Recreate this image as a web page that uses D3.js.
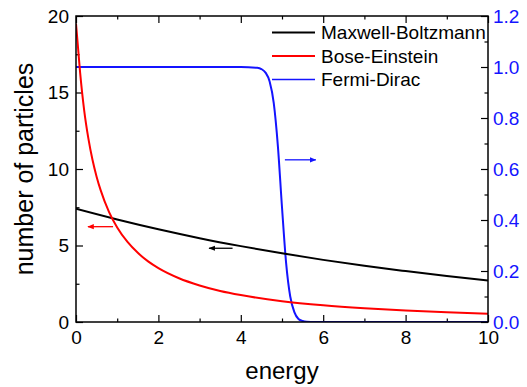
<!DOCTYPE html>
<html>
<head>
<meta charset="utf-8">
<script src="https://cdn.jsdelivr.net/npm/d3@7"></script>
<style>
  body { margin: 0; background: #fff; }
  text { font-family: "Liberation Sans", Arial, sans-serif; }
</style>
</head>
<body>
<div id="chart"></div>
<script>
// values
const mbEnergy = [0, 1, 2, 3, 4, 5, 6, 7, 8, 9, 10];
const mbCount  = [7.40, 6.70, 6.06, 5.48, 4.96, 4.49, 4.06, 3.67, 3.33, 3.01, 2.72];

const beEnergy = [0, 0.1, 0.2, 0.3, 0.4, 0.5, 0.6, 0.8, 1.0, 1.25, 1.5, 1.75, 2, 2.5, 3, 3.5, 4, 5, 6, 7, 8, 9, 10];
const beCount  = [19.5, 16.3, 13.8, 12.0, 10.6, 9.5, 8.6, 7.2, 6.18, 5.23, 4.52, 3.96, 3.52, 2.86, 2.39, 2.03, 1.76, 1.36, 1.09, 0.895, 0.746, 0.63, 0.54];

const fdEnergy = [0, 4.0, 4.4, 4.5, 4.6, 4.7, 4.8, 4.9, 5.0, 5.1, 5.2, 5.3, 5.4, 5.5, 5.6, 5.8, 6.0, 10];
const fdProb   = [1.0, 1.0, 0.997, 0.992, 0.978, 0.943, 0.858, 0.690, 0.450, 0.231, 0.100, 0.039, 0.012, 0.004, 0.001, 0, 0, 0];

const seriesNames = ["Maxwell-Boltzmann", "Bose-Einstein", "Fermi-Dirac"];
const seriesColors = ["#000000", "#ff0000", "#1414ff"];

const xTicks = [0, 2, 4, 6, 8, 10];
const yLeftTicks = [0, 5, 10, 15, 20];
const yRightTicks = [0, 0.2, 0.4, 0.6, 0.8, 1.0, 1.2];

// arrows: y value, from x, to x, which axis
const arrows = [
  { y: 6.23, x0: 0.9, x1: 0.29, side: "left", color: "#ff0000" },
  { y: 4.82, x0: 3.8, x1: 3.23, side: "left", color: "#000000" },
  { y: 0.636, x0: 5.07, x1: 5.82, side: "right", color: "#1414ff" }
];

const W = 527, H = 387;
const margin = {top: 16, right: 39, bottom: 65, left: 76};
const width = W - margin.left - margin.right,
      height = H - margin.top - margin.bottom;

const svg = d3.select("#chart").append("svg")
    .attr("width", W).attr("height", H);

const defs = svg.append("defs");
arrows.forEach((a, i) => {
  defs.append("marker")
      .attr("id", "ah" + i)
      .attr("viewBox", "0 0 10 10")
      .attr("refX", 9).attr("refY", 5)
      .attr("markerWidth", 5).attr("markerHeight", 5)
      .attr("markerUnits", "strokeWidth")
      .attr("orient", "auto")
    .append("path")
      .attr("d", "M0,1 L10,5 L0,9 Z")
      .attr("fill", a.color);
});

const g = svg.append("g")
    .attr("transform", "translate(" + margin.left + "," + margin.top + ")");

const x = d3.scaleLinear().domain([0, 10]).range([0, width]);
const yL = d3.scaleLinear().domain([0, 20]).range([height, 0]);
const yR = d3.scaleLinear().domain([0, 1.2]).range([height, 0]);

// minor ticks
g.append("g").attr("transform", "translate(0," + height + ")")
  .call(d3.axisBottom(x).tickValues(d3.range(1, 10, 2)).tickSize(-3.5).tickSizeOuter(0).tickFormat(""));
g.append("g")
  .call(d3.axisTop(x).tickValues(d3.range(1, 10, 2)).tickSize(-3.5).tickSizeOuter(0).tickFormat(""));
g.append("g")
  .call(d3.axisLeft(yL).tickValues([2.5, 7.5, 12.5, 17.5]).tickSize(-3.5).tickSizeOuter(0).tickFormat(""));
g.append("g").attr("transform", "translate(" + width + ",0)")
  .call(d3.axisRight(yR).tickValues([0.1, 0.3, 0.5, 0.7, 0.9, 1.1]).tickSize(-3.5).tickSizeOuter(0).tickFormat(""));

// major ticks
g.append("g").attr("transform", "translate(0," + height + ")")
  .call(d3.axisBottom(x).tickValues(xTicks).tickSize(-7).tickSizeOuter(0).tickPadding(9).tickFormat(d3.format("d")));
g.append("g")
  .call(d3.axisTop(x).tickValues(xTicks).tickSize(-7).tickSizeOuter(0).tickFormat(""));
g.append("g")
  .call(d3.axisLeft(yL).tickValues(yLeftTicks).tickSize(-7).tickSizeOuter(0).tickPadding(7).tickFormat(d3.format("d")));
const yAxisR = g.append("g").attr("transform", "translate(" + width + ",0)")
  .call(d3.axisRight(yR).tickValues(yRightTicks).tickSize(-7).tickSizeOuter(0).tickPadding(5).tickFormat(d3.format(".1f")));

g.selectAll(".domain").remove();
g.selectAll(".tick line").attr("stroke", "#000").attr("stroke-width", 1.2);
g.selectAll(".tick text").attr("font-size", 19).attr("fill", "#000")
  .style("font-family", '"Liberation Sans", Arial, sans-serif');
yAxisR.selectAll(".tick text").attr("fill", "#1414ff");

// lines
const clip = defs.append("clipPath").attr("id", "plotclip");
clip.append("rect").attr("width", width).attr("height", height);

const plot = g.append("g").attr("clip-path", "url(#plotclip)");

const lineL = d3.line().x(d => x(d[0])).y(d => yL(d[1])).curve(d3.curveMonotoneX);
const lineR = d3.line().x(d => x(d[0])).y(d => yR(d[1])).curve(d3.curveMonotoneX);

plot.append("path")
    .datum(fdEnergy.map((e, i) => [e, fdProb[i]]))
    .attr("d", lineR).attr("fill", "none")
    .attr("stroke", seriesColors[2]).attr("stroke-width", 2);

plot.append("path")
    .datum(mbEnergy.map((e, i) => [e, mbCount[i]]))
    .attr("d", lineL).attr("fill", "none")
    .attr("stroke", seriesColors[0]).attr("stroke-width", 2);

plot.append("path")
    .datum(beEnergy.map((e, i) => [e, beCount[i]]))
    .attr("d", lineL).attr("fill", "none")
    .attr("stroke", seriesColors[1]).attr("stroke-width", 2);

// arrows
arrows.forEach((a, i) => {
  const ys = a.side === "left" ? yL : yR;
  g.append("line")
      .attr("x1", x(a.x0)).attr("x2", x(a.x1))
      .attr("y1", ys(a.y)).attr("y2", ys(a.y))
      .attr("stroke", a.color).attr("stroke-width", 1.3)
      .attr("marker-end", "url(#ah" + i + ")");
});

// frame
g.append("rect")
    .attr("width", width).attr("height", height)
    .attr("fill", "none").attr("stroke", "#000").attr("stroke-width", 1.5);

// legend
const legend = g.append("g").attr("transform", "translate(" + (272 - margin.left) + "," + (32.5 - margin.top) + ")");
seriesNames.forEach((name, i) => {
  const row = legend.append("g").attr("transform", "translate(0," + (i * 23.5) + ")");
  row.append("line").attr("x1", 0).attr("x2", 43)
      .attr("stroke", seriesColors[i]).attr("stroke-width", i === 2 ? 1.5 : 2);
  row.append("text").attr("x", 49).attr("y", 0).attr("dy", "0.35em")
      .attr("font-size", 19).text(name);
});

// axis titles
svg.append("text")
    .attr("x", margin.left + width / 2).attr("y", 379)
    .attr("text-anchor", "middle").attr("font-size", 24)
    .text("energy");

svg.append("text")
    .attr("transform", "translate(33," + (margin.top + height / 2) + ") rotate(-90)")
    .attr("text-anchor", "middle").attr("font-size", 25)
    .text("number of particles");
</script>
</body>
</html>
